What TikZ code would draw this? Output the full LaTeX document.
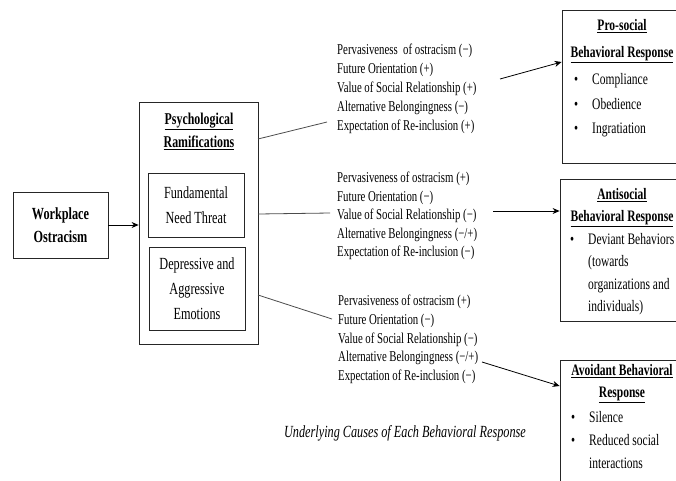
\documentclass[tikz,border=0pt]{standalone}
\usepackage{fontspec}
\setmainfont{Liberation Serif}[FakeStretch=0.72]
\usetikzlibrary{arrows.meta}

\tikzset{
  box/.style={draw=black!85,line width=0.8pt,inner sep=0pt},
  inbox/.style={align=center,font=\fontsize{17}{25}\selectfont},
  ttl/.style={align=center,font=\bfseries\fontsize{16.5}{23}\selectfont},
  causes/.style={align=left,anchor=west,inner sep=0pt},
  link/.style={draw=black!70,line width=0.8pt},
  arr/.style={line width=0.8pt,-{Stealth[length=7pt,width=6pt]}}
}

\begin{document}
\begin{tikzpicture}[x=1pt,y=-1pt]
            \useasboundingbox (0,0) rectangle (676,480);
            \clip (0,0) rectangle (676,480);

            % left part
            \node (wo) at (60.5,225) [box,minimum width=95pt,minimum height=66pt,ttl,font=\bfseries\fontsize{17}{23}\selectfont] {Workplace\\Ostracism};
            \node (psych) at (198.5,223) [box,minimum width=119pt,minimum height=242pt] {};
            \node (psyt) at (199,131) [ttl] {\underline{Psychological}\\\underline{Ramifications}};
            \node (fund) at (196,205) [box,minimum width=96pt,minimum height=64pt,inbox] {Fundamental\\Need Threat};
            \node (dep) at (197,288.5) [box,minimum width=96pt,minimum height=83pt,inbox] {Depressive and\\Aggressive\\Emotions};

            \draw[arr] (wo.east) -- (wo.east -| psych.west);

            % underlying causes
            \node (c1) at (337,89) [causes,font=\fontsize{15}{19}\selectfont] {Pervasiveness\ \ of ostracism (−)\\Future Orientation (+)\\Value of Social Relationship (+)\\Alternative Belongingness (−)\\Expectation of Re-inclusion (+)};
            \node (c2) at (337,216) [causes,font=\fontsize{15}{18.4}\selectfont] {Pervasiveness of ostracism (+)\\Future Orientation (−)\\Value of Social Relationship (−)\\Alternative Belongingness (−/+)\\Expectation of Re-inclusion (−)};
            \node (c3) at (338,339.5) [causes,font=\fontsize{15}{18.7}\selectfont] {Pervasiveness of ostracism (+)\\Future Orientation (−)\\Value of Social Relationship (−)\\Alternative Belongingness (−/+)\\Expectation of Re-inclusion (−)};
            \node (cap) at (405,433) [font=\itshape\fontsize{17}{20}\selectfont] {Underlying Causes of Each Behavioral Response};

            \coordinate (s1) at (258,139); \coordinate (e1) at (327,122);
            \coordinate (s2) at (258,214); \coordinate (e2) at (330,213);
            \coordinate (s3) at (258,295); \coordinate (e3) at (332,319);
            \draw[link] (s1) -- (e1) (s2) -- (e2) (s3) -- (e3);

            % responses
            \node (pro) at (623,86.5) [box,minimum width=122pt,minimum height=153pt] {};
            \node (prot) at (622,41) [ttl,font=\bfseries\fontsize{16}{27}\selectfont] {\underline{Pro-social}\\\underline{Behavioral Response}};
            \node (prol) at (574,104.5) [causes,font=\fontsize{16}{24.5}\selectfont] {\begin{tabular}{@{}p{18pt}@{}l@{}}\textbullet & Compliance\\\textbullet & Obedience\\\textbullet & Ingratiation\end{tabular}};

            \node (anti) at (622,250) [box,minimum width=124pt,minimum height=142pt] {};
            \node (antt) at (622,208) [ttl,font=\bfseries\fontsize{16}{22}\selectfont] {\underline{Antisocial}\\\underline{Behavioral Response}};
            \node (antl) at (570,273.5) [causes,font=\fontsize{16}{22.3}\selectfont] {\begin{tabular}{@{}p{18pt}@{}l@{}}\textbullet & Deviant Behaviors\\ & (towards\\ & organizations and\\ & individuals)\end{tabular}};

            \node (avo) at (622,426) [box,minimum width=124pt,minimum height=132pt] {};
            \node (avot) at (622,384) [ttl,font=\bfseries\fontsize{16}{22}\selectfont] {\underline{Avoidant Behavioral}\\\underline{Response}};
            \node (avol) at (571,441) [causes,font=\fontsize{16}{23}\selectfont] {\begin{tabular}{@{}p{18pt}@{}l@{}}\textbullet & Silence\\\textbullet & Reduced social\\ & interactions\end{tabular}};

            \coordinate (a1) at (500,79); \coordinate (a2) at (493,211); \coordinate (a3) at (482,362);
            \draw[arr] (a1) -- (pro.west |- 0,62);
            \draw[arr] (a2) -- (anti.west |- 0,211);
            \draw[arr] (a3) -- (avo.west |- 0,386);
        \end{tikzpicture}
\end{document}
